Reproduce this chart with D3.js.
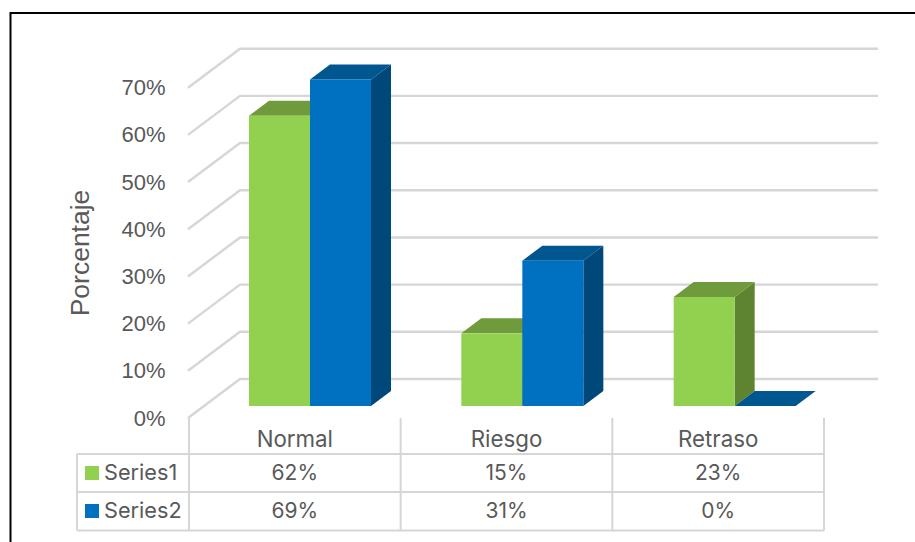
<!DOCTYPE html>
<html><head><meta charset="utf-8">
<script src="https://cdnjs.cloudflare.com/ajax/libs/d3/7.8.5/d3.min.js"></script>
<style>html,body{margin:0;padding:0;background:#fff;overflow:hidden}svg{display:block}</style>
</head><body><svg id="c" width="915" height="542"></svg>
<script>
const categories = ["Normal","Riesgo","Retraso"];
const seriesNames = ["Series1","Series2"];
const series1 = [61.5,15.4,23.1];
const series2 = [69.2,30.8,0];
const yTicks = [0,10,20,30,40,50,60,70];
const yTitle = "Porcentaje";
const colors = {Series1:{front:"#92d050",top:"#709b3c",side:"#5e8431"},Series2:{front:"#0070c0",top:"#00568f",side:"#00477a"}};

const svg = d3.select("#c");
const grey = "#d6d6d6", txt = "#595959";
const tickFont = "'Liberation Sans'", tableFont = "Inter";

// frame
svg.append("rect").attr("x",10.5).attr("y",13).attr("width",1000).attr("height",1000)
  .attr("fill","#fff").attr("stroke","#000").attr("stroke-width",2);

// scales
const y = d3.scaleLinear().domain([0,70]).range([418,87.7]);
const band = d3.scaleBand().domain(categories).range([189,824]);
const barBand = d3.scaleBand().domain(categories).range([189,826]);
const inner = d3.scaleBand().domain(seriesNames).range([60,182]);
const wall = {dx:52,dy:-39};
const barShift = {dx:0,dy:-12};
const depth = {dx:20,dy:-15};

// walls & gridlines
const g = svg.append("g").attr("fill","none").attr("stroke",grey).attr("stroke-width",2.4);
yTicks.forEach(t=>{
  const yy=y(t);
  g.append("path").attr("d",d3.line()([[188,yy],[188+wall.dx,yy+wall.dy],[878,yy+wall.dy]]));
});

// bars
const data = [series1,series2];
seriesNames.forEach((s,i)=>{
  categories.forEach((c,j)=>{
    const x0 = barBand(c)+inner(s), w = inner.bandwidth();
    const yb = y(0)+barShift.dy, yt = y(data[i][j])+barShift.dy;
    const col = colors[s];
    const gb = svg.append("g").attr("class","bar");
    gb.append("path").attr("fill",col.side).attr("d",d3.line()([[x0+w,yt],[x0+w+depth.dx,yt+depth.dy],[x0+w+depth.dx,yb+depth.dy],[x0+w,yb]])+"Z");
    gb.append("path").attr("fill",col.top).attr("d",d3.line()([[x0,yt],[x0+depth.dx,yt+depth.dy],[x0+w+depth.dx,yt+depth.dy],[x0+w,yt]])+"Z");
    gb.append("rect").attr("x",x0).attr("y",yt).attr("width",w).attr("height",yb-yt).attr("fill",col.front);
  });
});

// y axis labels
const ax = svg.append("g").attr("transform","translate(165.5,0)")
  .call(d3.axisLeft(y).tickValues(yTicks).tickSize(0).tickPadding(0).tickFormat(d=>d+"%"));
ax.select(".domain").remove();
ax.selectAll("text").attr("fill",txt).style("font-family",tickFont).style("font-size","22px");

svg.append("text").attr("transform","translate(89,253) rotate(-90)").attr("text-anchor","middle")
  .attr("fill",txt).style("font-family",tickFont).style("font-size","26.5px").text(yTitle);

// data table
const rows=[454,492,530.5], L=77, colEdges=[...categories.map(c=>band(c)),band.range()[1]];
const tb = svg.append("g").attr("stroke",grey).attr("stroke-width",2);
rows.forEach(r=>tb.append("line").attr("x1",L).attr("x2",824).attr("y1",r).attr("y2",r));
colEdges.forEach(x=>tb.append("line").attr("x1",x).attr("x2",x).attr("y1",418).attr("y2",530.5));
tb.append("line").attr("x1",L).attr("x2",L).attr("y1",454).attr("y2",530.5);

const tt=(x,yy,s,a,size)=>svg.append("text").attr("x",x).attr("y",yy).attr("text-anchor",a||"middle")
  .attr("fill",txt).style("font-family",tableFont).style("font-size",(size||21)+"px").text(s);
const fmt=d3.format(".0f");
categories.forEach((c,j)=>{
  const cx=band(c)+band.bandwidth()/2;
  tt(cx,447,c,"middle",22.3);
  tt(cx,480,fmt(series1[j])+"%");
  tt(cx,518,fmt(series2[j])+"%");
});
seriesNames.forEach((s,i)=>{
  const ry=[466,504][i];
  svg.append("rect").attr("x",85).attr("y",ry).attr("width",14).attr("height",14).attr("fill",colors[s].front);
  tt(104,ry+14,s,"start",21.7);
});
</script></body></html>
